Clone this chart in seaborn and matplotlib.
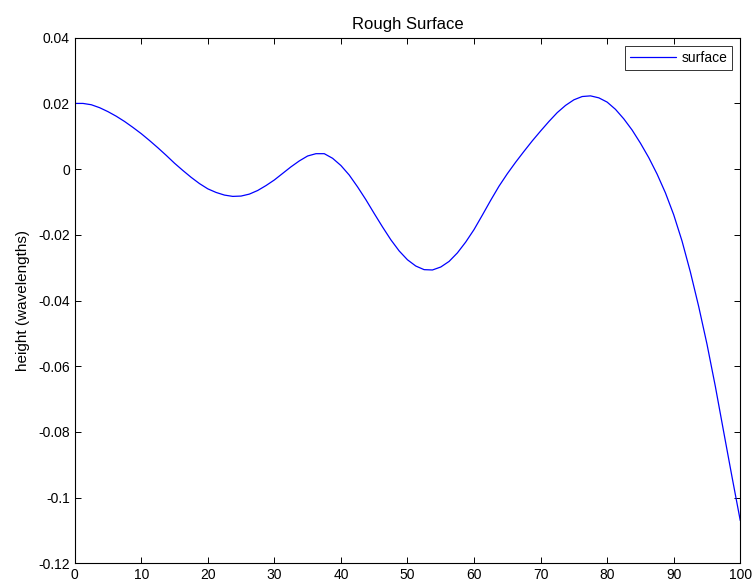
import matplotlib
matplotlib.use("Agg")
import matplotlib.pyplot as plt
import pandas as pd
import seaborn as sns
from matplotlib.ticker import FormatStrFormatter, FuncFormatter

# Surface profile samples (position along surface, height in wavelengths)
position = [0, 1.25, 2.5, 3.75, 5, 6.25, 7.5, 8.75, 10, 11.25, 12.5, 13.75,
            15, 16.25, 17.5, 18.75, 20, 21.25, 22.5, 23.75, 25, 26.25, 27.5,
            28.75, 30, 31.25, 32.5, 33.75, 35, 36.25, 37.5, 38.75, 40, 41.25,
            42.5, 43.75, 45, 46.25, 47.5, 48.75, 50, 51.25, 52.5, 53.75, 55,
            56.25, 57.5, 58.75, 60, 61.25, 62.5, 63.75, 65, 66.25, 67.5,
            68.75, 70, 71.25, 72.5, 73.75, 75, 76.25, 77.5, 78.75, 80, 81.25,
            82.5, 83.75, 85, 86.25, 87.5, 88.75, 90, 91.25, 92.5, 93.75, 95,
            96.25, 97.5, 98.75, 100]
height = [0.0200, 0.0200, 0.0196, 0.0187, 0.0175, 0.0161, 0.0145, 0.0127,
          0.0108, 0.0087, 0.0065, 0.0042, 0.0018, -0.0004, -0.0025, -0.0044,
          -0.0060, -0.0071, -0.0079, -0.0083, -0.0082, -0.0076, -0.0065,
          -0.0050, -0.0033, -0.0013, 0.0007, 0.0025, 0.0040, 0.0047, 0.0047,
          0.0033, 0.0011, -0.0018, -0.0054, -0.0093, -0.0135, -0.0176,
          -0.0215, -0.0249, -0.0276, -0.0295, -0.0306, -0.0307, -0.0298,
          -0.0281, -0.0255, -0.0222, -0.0184, -0.0140, -0.0095, -0.0052,
          -0.0014, 0.0021, 0.0054, 0.0086, 0.0116, 0.0145, 0.0172, 0.0194,
          0.0211, 0.0221, 0.0223, 0.0217, 0.0204, 0.0182, 0.0153, 0.0119,
          0.0079, 0.0035, -0.0015, -0.0072, -0.0139, -0.0219, -0.0313,
          -0.0418, -0.0533, -0.0661, -0.0799, -0.0936, -0.1070]

x_ticks = [0, 10, 20, 30, 40, 50, 60, 70, 80, 90, 100]
y_ticks = [0.04, 0.02, 0, -0.02, -0.04, -0.06, -0.08, -0.1, -0.12]

sns.set_theme(style="ticks")
plt.rcParams["font.family"] = ["Liberation Sans", "DejaVu Sans"]
plt.rcParams["axes.unicode_minus"] = False
plt.rcParams["text.color"] = "black"
plt.rcParams["axes.labelcolor"] = "black"

df = pd.DataFrame({"x": position, "height": height})

fig = plt.figure(figsize=(7.55, 5.84), dpi=100)
ax = fig.add_axes([0.0989, 0.0354, 0.8816, 0.9000])

sns.lineplot(data=df, x="x", y="height", ax=ax, color="#0000ff",
             linewidth=0.9, label="surface", sort=True)

ax.set_xlim(0, 100)
ax.set_ylim(-0.12, 0.04)
ax.set_xticks(x_ticks)
ax.set_yticks(y_ticks)
ax.yaxis.set_major_formatter(FuncFormatter(lambda v, p: f"{v:g}"))
ax.xaxis.set_major_formatter(FormatStrFormatter("%g"))

for s in ax.spines.values():
    s.set_visible(True)
    s.set_linewidth(0.8)
    s.set_color("black")

ax.tick_params(direction="in", length=4.5, width=0.7, top=True, right=True,
               labelsize=10, colors="black", pad=3.5)

ax.set_xlabel("")
ax.set_ylabel("height (wavelengths)", fontsize=11, labelpad=6, color="black")
ax.set_title("Rough Surface", fontsize=12, pad=6, color="black")

leg = ax.legend(loc="upper right", fontsize=10, frameon=True, fancybox=False,
                handlelength=3.3, borderaxespad=0.6, borderpad=0.35,
                handletextpad=0.4)
leg.get_frame().set_edgecolor("black")
leg.get_frame().set_linewidth(0.7)
for t in leg.get_texts():
    t.set_color("black")

fig.savefig("out.png", dpi=100)
